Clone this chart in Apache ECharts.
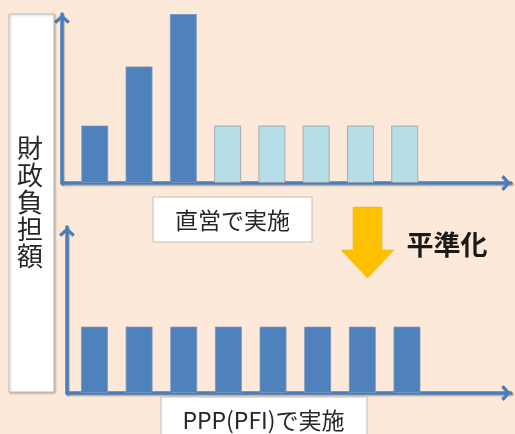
<!DOCTYPE html>
<html>
<head>
<meta charset="utf-8">
<script src="https://cdn.jsdelivr.net/npm/echarts@6/dist/echarts.min.js"></script>
<style>
html,body{margin:0;padding:0;background:#fde9d9;}
#c{width:515px;height:434px;}
</style>
</head>
<body>
<div id="c"></div>
<script>
// ---- data ----
var periods = [1, 2, 3, 4, 5, 6, 7, 8];
var directValues = [34, 69, 100, 34, 34, 34, 34, 34];          // 直営で実施
var directPhase = ['建設', '建設', '建設', '運営', '運営', '運営', '運営', '運営'];
var pppValues = [40, 40, 40, 40, 40, 40, 40, 40];              // PPP(PFI)で実施
var yAxisTitle = '財政負担額';
var topLabel = '直営で実施';
var bottomLabel = 'PPP(PFI)で実施';
var arrowLabel = '平準化';

var FONT = '"Noto Sans CJK JP", "Noto Sans CJK SC", sans-serif';
var AXIS_COLOR = '#4a7ebb';
var DARK = '#4f81bd';
var LIGHT = '#b7dee8';
var chevron = 'path://M0,9 L10,0 L20,9 L17,12 L10,5.5 L3,12 Z';

function axisLine() {
  return {
    show: true,
    onZero: false,
    symbol: ['none', chevron],
    symbolSize: [16, 10],
    symbolOffset: [0, -5],
    lineStyle: {
      color: AXIS_COLOR, width: 3.5,
      shadowColor: 'rgba(90,60,30,0.35)', shadowBlur: 1, shadowOffsetX: 1, shadowOffsetY: 1.5
    }
  };
}
function hiddenBits(o) {
  o.axisTick = { show: false };
  o.axisLabel = { show: false };
  o.splitLine = { show: false };
  return o;
}

var chart = echarts.init(document.getElementById('c'), null, { renderer: 'canvas' });
chart.setOption({
  backgroundColor: '#fde9d9',
  animation: false,
  grid: [
    { left: 62, right: 4, top: 14, bottom: 251 },
    { left: 67, right: 4, top: 227, bottom: 41 }
  ],
  xAxis: [
    hiddenBits({ type: 'value', gridIndex: 0, min: -0.74, max: 9.4, axisLine: axisLine() }),
    hiddenBits({ type: 'value', gridIndex: 1, min: -0.615, max: 9.33, axisLine: axisLine() })
  ],
  yAxis: [
    hiddenBits({ type: 'value', gridIndex: 0, min: 0, max: 100, axisLine: axisLine() }),
    hiddenBits({ type: 'value', gridIndex: 1, min: 0, max: 100, axisLine: axisLine() })
  ],
  series: [
    {
      name: topLabel, type: 'bar', xAxisIndex: 0, yAxisIndex: 0,
      barWidth: 27,
      data: directValues.map(function (v, i) {
        var build = directPhase[i] === '建設';
        return {
          value: [periods[i] - 1, v],
          itemStyle: {
            color: build ? DARK : LIGHT,
            borderColor: build ? 'rgba(120,150,190,0.8)' : 'rgba(150,160,165,0.8)',
            borderWidth: 1
          }
        };
      }),
      z: 1
    },
    {
      name: bottomLabel, type: 'bar', xAxisIndex: 1, yAxisIndex: 1,
      barWidth: 27,
      data: pppValues.map(function (v, i) { return [periods[i] - 1, v]; }),
      itemStyle: { color: DARK, borderColor: 'rgba(120,150,190,0.8)', borderWidth: 1 },
      z: 1
    }
  ],
  graphic: [
    {
      type: 'rect', shape: { x: 9, y: 14, width: 45, height: 378 },
      style: { fill: '#ffffff', stroke: '#bfbfbf', lineWidth: 1,
               shadowColor: 'rgba(0,0,0,0.25)', shadowBlur: 2, shadowOffsetX: 1, shadowOffsetY: 1 },
      z: 10
    },
    {
      type: 'text', x: 30, y: 202, z: 11,
      style: { text: yAxisTitle.split('').join('\n'), font: '26px ' + FONT, lineHeight: 27,
               fill: '#262626', align: 'center', verticalAlign: 'middle' }
    },
    {
      type: 'rect', shape: { x: 153, y: 197, width: 159, height: 45 },
      style: { fill: '#ffffff', stroke: '#bfbfbf', lineWidth: 1 }, z: 10
    },
    {
      type: 'text', x: 232.5, y: 220, z: 11,
      style: { text: topLabel, font: '23px ' + FONT, fill: '#262626', align: 'center', verticalAlign: 'middle' }
    },
    {
      type: 'rect', shape: { x: 161, y: 397, width: 206, height: 50 },
      style: { fill: '#ffffff', stroke: '#bfbfbf', lineWidth: 1 }, z: 10
    },
    {
      type: 'text', x: 263.5, y: 420, z: 11,
      style: { text: bottomLabel, font: '23px ' + FONT, fill: '#262626', align: 'center', verticalAlign: 'middle' }
    },
    {
      type: 'polygon', z: 10,
      shape: { points: [[353, 207], [382, 207], [382, 250], [394, 250], [367.5, 278], [341, 250], [353, 250]] },
      style: { fill: '#ffc000', stroke: '#f0b400', lineWidth: 0.5 }
    },
    {
      type: 'text', x: 447, y: 245, z: 11,
      style: { text: arrowLabel, font: 'bold 27px ' + FONT, fill: '#1a1a1a', align: 'center', verticalAlign: 'middle' }
    }
  ]
});
</script>
</body>
</html>
